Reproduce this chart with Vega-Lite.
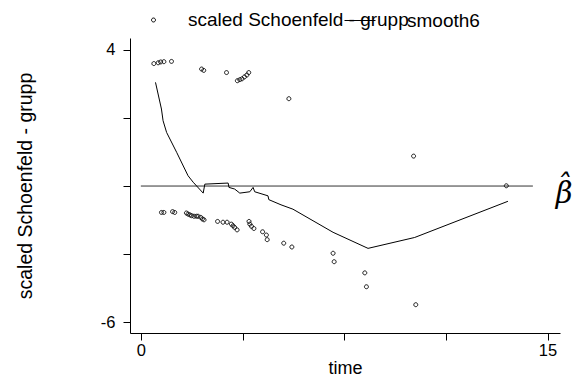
{
  "$schema": "https://vega.github.io/schema/vega-lite/v6.json",
  "width": 430,
  "height": 295,
  "autosize": {"type": "none"},
  "padding": {"left": 130, "top": 38, "right": 16, "bottom": 47},
  "background": "white",
  "config": {
    "view": {"stroke": null},
    "font": "Liberation Sans",
    "axis": {
      "grid": false,
      "domainColor": "black",
      "tickColor": "black",
      "labelColor": "black",
      "titleColor": "black",
      "tickSize": 7,
      "labelFontSize": 16.5,
      "labelFont": "Liberation Sans",
      "titleFont": "Liberation Sans",
      "titleFontWeight": "normal"
    },
    "legend": {
      "labelFont": "Liberation Sans",
      "labelFontSize": 19,
      "labelColor": "black",
      "labelLimit": 400,
      "padding": 0,
      "symbolStrokeWidth": 1,
      "symbolStrokeColor": "black",
      "symbolFillColor": "transparent"
    }
  },
  "datasets": {
    "resid": [
      {"t": 0.48, "y": 3.50, "series": "scaled Schoenfeld - grupp"},
      {"t": 0.64, "y": 3.53, "series": "scaled Schoenfeld - grupp"},
      {"t": 0.73, "y": 3.56, "series": "scaled Schoenfeld - grupp"},
      {"t": 0.85, "y": 3.57, "series": "scaled Schoenfeld - grupp"},
      {"t": 1.13, "y": 3.58, "series": "scaled Schoenfeld - grupp"},
      {"t": 2.24, "y": 3.30, "series": "scaled Schoenfeld - grupp"},
      {"t": 2.32, "y": 3.25, "series": "scaled Schoenfeld - grupp"},
      {"t": 3.16, "y": 3.17, "series": "scaled Schoenfeld - grupp"},
      {"t": 3.56, "y": 2.87, "series": "scaled Schoenfeld - grupp"},
      {"t": 3.65, "y": 2.91, "series": "scaled Schoenfeld - grupp"},
      {"t": 3.73, "y": 2.94, "series": "scaled Schoenfeld - grupp"},
      {"t": 3.82, "y": 3.01, "series": "scaled Schoenfeld - grupp"},
      {"t": 3.91, "y": 3.08, "series": "scaled Schoenfeld - grupp"},
      {"t": 3.98, "y": 3.17, "series": "scaled Schoenfeld - grupp"},
      {"t": 5.46, "y": 2.21, "series": "scaled Schoenfeld - grupp"},
      {"t": 10.06, "y": 0.10, "series": "scaled Schoenfeld - grupp"},
      {"t": 13.48, "y": -0.99, "series": "scaled Schoenfeld - grupp"},
      {"t": 10.14, "y": -5.36, "series": "scaled Schoenfeld - grupp"},
      {"t": 0.76, "y": -1.97, "series": "scaled Schoenfeld - grupp"},
      {"t": 0.85, "y": -1.97, "series": "scaled Schoenfeld - grupp"},
      {"t": 1.17, "y": -1.94, "series": "scaled Schoenfeld - grupp"},
      {"t": 1.25, "y": -1.97, "series": "scaled Schoenfeld - grupp"},
      {"t": 1.68, "y": -1.99, "series": "scaled Schoenfeld - grupp"},
      {"t": 1.74, "y": -2.03, "series": "scaled Schoenfeld - grupp"},
      {"t": 1.81, "y": -2.06, "series": "scaled Schoenfeld - grupp"},
      {"t": 1.87, "y": -2.09, "series": "scaled Schoenfeld - grupp"},
      {"t": 1.96, "y": -2.11, "series": "scaled Schoenfeld - grupp"},
      {"t": 2.05, "y": -2.11, "series": "scaled Schoenfeld - grupp"},
      {"t": 2.11, "y": -2.11, "series": "scaled Schoenfeld - grupp"},
      {"t": 2.21, "y": -2.15, "series": "scaled Schoenfeld - grupp"},
      {"t": 2.27, "y": -2.21, "series": "scaled Schoenfeld - grupp"},
      {"t": 2.33, "y": -2.24, "series": "scaled Schoenfeld - grupp"},
      {"t": 2.83, "y": -2.30, "series": "scaled Schoenfeld - grupp"},
      {"t": 3.03, "y": -2.33, "series": "scaled Schoenfeld - grupp"},
      {"t": 3.18, "y": -2.33, "series": "scaled Schoenfeld - grupp"},
      {"t": 3.34, "y": -2.40, "series": "scaled Schoenfeld - grupp"},
      {"t": 3.40, "y": -2.46, "series": "scaled Schoenfeld - grupp"},
      {"t": 3.46, "y": -2.52, "series": "scaled Schoenfeld - grupp"},
      {"t": 3.55, "y": -2.61, "series": "scaled Schoenfeld - grupp"},
      {"t": 3.99, "y": -2.30, "series": "scaled Schoenfeld - grupp"},
      {"t": 4.02, "y": -2.40, "series": "scaled Schoenfeld - grupp"},
      {"t": 4.08, "y": -2.48, "series": "scaled Schoenfeld - grupp"},
      {"t": 4.17, "y": -2.56, "series": "scaled Schoenfeld - grupp"},
      {"t": 4.49, "y": -2.68, "series": "scaled Schoenfeld - grupp"},
      {"t": 4.63, "y": -2.80, "series": "scaled Schoenfeld - grupp"},
      {"t": 4.66, "y": -2.97, "series": "scaled Schoenfeld - grupp"},
      {"t": 5.27, "y": -3.10, "series": "scaled Schoenfeld - grupp"},
      {"t": 5.57, "y": -3.24, "series": "scaled Schoenfeld - grupp"},
      {"t": 7.09, "y": -3.47, "series": "scaled Schoenfeld - grupp"},
      {"t": 7.13, "y": -3.78, "series": "scaled Schoenfeld - grupp"},
      {"t": 8.26, "y": -4.19, "series": "scaled Schoenfeld - grupp"},
      {"t": 8.32, "y": -4.70, "series": "scaled Schoenfeld - grupp"}
    ],
    "smooth": [
      {"t": 0.54, "y": 2.81, "s": "smooth6"},
      {"t": 0.76, "y": 1.83, "s": "smooth6"},
      {"t": 0.82, "y": 1.40, "s": "smooth6"},
      {"t": 0.95, "y": 0.97, "s": "smooth6"},
      {"t": 1.32, "y": 0.24, "s": "smooth6"},
      {"t": 1.74, "y": -0.62, "s": "smooth6"},
      {"t": 1.93, "y": -0.86, "s": "smooth6"},
      {"t": 2.30, "y": -1.26, "s": "smooth6"},
      {"t": 2.36, "y": -0.93, "s": "smooth6"},
      {"t": 3.22, "y": -0.89, "s": "smooth6"},
      {"t": 3.25, "y": -1.05, "s": "smooth6"},
      {"t": 3.46, "y": -1.11, "s": "smooth6"},
      {"t": 3.65, "y": -1.26, "s": "smooth6"},
      {"t": 4.02, "y": -1.21, "s": "smooth6"},
      {"t": 4.14, "y": -1.05, "s": "smooth6"},
      {"t": 4.20, "y": -1.21, "s": "smooth6"},
      {"t": 4.69, "y": -1.36, "s": "smooth6"},
      {"t": 4.72, "y": -1.50, "s": "smooth6"},
      {"t": 5.17, "y": -1.69, "s": "smooth6"},
      {"t": 5.61, "y": -1.85, "s": "smooth6"},
      {"t": 7.09, "y": -2.70, "s": "smooth6"},
      {"t": 8.38, "y": -3.29, "s": "smooth6"},
      {"t": 10.10, "y": -2.89, "s": "smooth6"},
      {"t": 13.54, "y": -1.56, "s": "smooth6"}
    ],
    "ref": [{"t": 0, "t2": 14.46, "y": -1}],
    "lab": [{"t": 15.3, "y": -1, "text": ["ˆ", "β"]}]
  },
  "layer": [
    {
      "data": {"name": "ref"},
      "mark": {"type": "rule", "color": "#333333", "strokeWidth": 1},
      "encoding": {
        "x": {"field": "t", "type": "quantitative"},
        "x2": {"field": "t2"},
        "y": {"field": "y", "type": "quantitative"}
      }
    },
    {
      "data": {"name": "smooth"},
      "mark": {"type": "line", "strokeWidth": 1},
      "encoding": {
        "x": {"field": "t", "type": "quantitative"},
        "y": {"field": "y", "type": "quantitative"},
        "color": {
          "field": "s", "type": "nominal",
          "scale": {"domain": ["smooth6"], "range": ["black"]},
          "legend": {
            "title": null,
            "orient": "none",
            "legendX": 214,
            "legendY": -33.5,
            "direction": "horizontal",
            "symbolType": "stroke",
            "symbolSize": 961,
            "symbolStrokeColor": "black",
            "labelOffset": 31
          }
        }
      }
    },
    {
      "data": {"name": "resid"},
      "mark": {"type": "point", "filled": false, "color": "black", "strokeWidth": 0.9, "size": 900, "opacity": 1},
      "encoding": {
        "x": {
          "field": "t", "type": "quantitative",
          "scale": {"domain": [-0.4, 15.46], "nice": false, "zero": false},
          "axis": {
            "title": "time",
            "titleFontSize": 18,
            "titlePadding": 1,
            "values": [0, 3.75, 7.5, 11.25, 15],
            "labelExpr": "datum.value == 0 ? '0' : (datum.value == 15 ? '15' : '')",
            "labelPadding": 2,
            "labelFlush": false,
            "labelOverlap": false
          }
        },
        "y": {
          "field": "y", "type": "quantitative",
          "scale": {"domain": [-6.4, 4.44], "nice": false, "zero": false},
          "axis": {
            "title": "scaled Schoenfeld - grupp",
            "titleFontSize": 19.5,
            "titlePadding": 65,
            "values": [4, 1.5, -1, -3.5, -6],
            "labelExpr": "datum.value == 4 ? '4' : (datum.value == -6 ? '-6' : '')",
            "labelPadding": 8,
            "labelFlush": false,
            "labelOverlap": false
          }
        },
        "shape": {
          "field": "series", "type": "nominal",
          "scale": {
            "domain": ["scaled Schoenfeld - grupp"],
            "range": ["M -0.133 0 A 0.133 0.133 0 1 0 0.133 0 A 0.133 0.133 0 1 0 -0.133 0 Z"]
          },
          "legend": {
            "title": null,
            "orient": "none",
            "legendX": 8,
            "legendY": -33.5,
            "direction": "horizontal",
            "symbolSize": 900,
            "labelOffset": 19
          }
        }
      }
    },
    {
      "data": {"name": "lab"},
      "mark": {"type": "text", "align": "left", "baseline": "middle", "lineHeight": 8, "dy": 0, "font": "DejaVu Serif", "fontStyle": "italic", "fontSize": 29, "color": "black"},
      "encoding": {
        "x": {"field": "t", "type": "quantitative"},
        "y": {"field": "y", "type": "quantitative"},
        "text": {"field": "text"}
      }
    }
  ]
}
